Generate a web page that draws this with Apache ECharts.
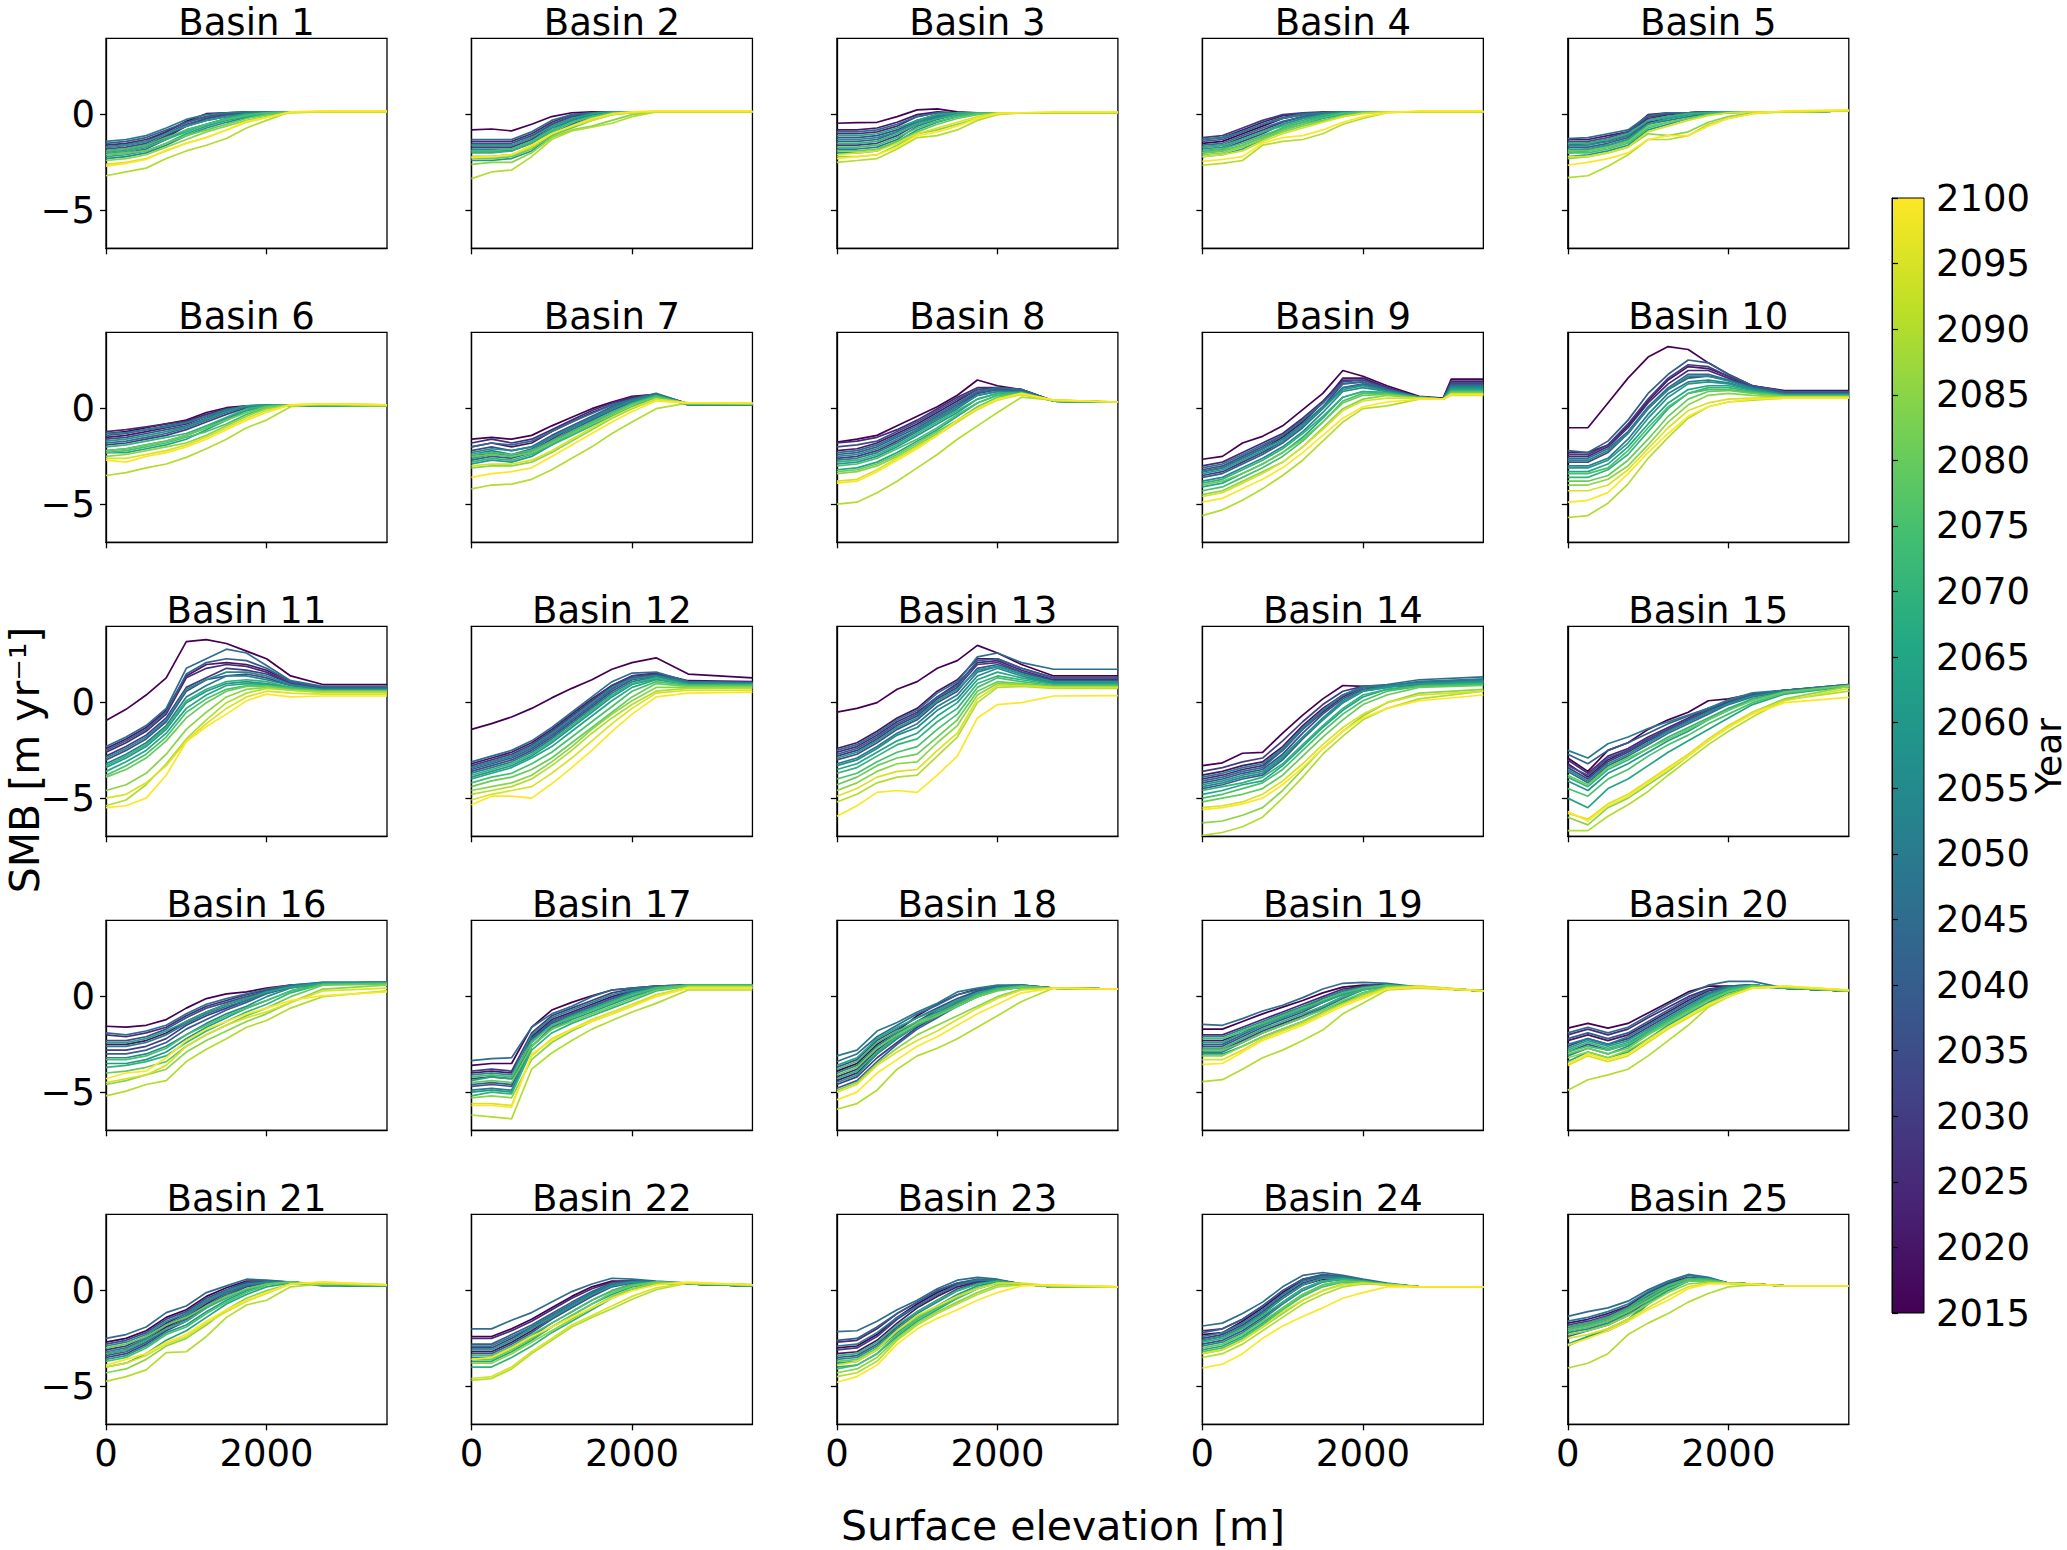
<!DOCTYPE html>
<html><head><meta charset="utf-8">
<script src="https://cdn.jsdelivr.net/npm/echarts@6/dist/echarts.min.js"></script>
<style>html,body{margin:0;padding:0;background:#fff}#c{width:2067px;height:1550px}</style>
</head><body><div id="c"></div>
<script>
const years = [2015,2020,2025,2030,2035,2040,2045,2050,2055,2060,2065,2070,2075,2080,2085,2090,2095,2100];
const elevations = [0,250,500,750,1000,1250,1500,1750,2000,2300,2700,3500];
const elevations9 = [0,250,500,750,1000,1250,1500,1750,2000,2300,2700,3000,3100,3500];
const xTicks = [0,2000];
const yTicks = [-5,0];
const yearTicks = [2015,2020,2025,2030,2035,2040,2045,2050,2055,2060,2065,2070,2075,2080,2085,2090,2095,2100];
const basinNames = ['Basin 1','Basin 2','Basin 3','Basin 4','Basin 5','Basin 6','Basin 7','Basin 8','Basin 9','Basin 10','Basin 11','Basin 12','Basin 13','Basin 14','Basin 15','Basin 16','Basin 17','Basin 18','Basin 19','Basin 20','Basin 21','Basin 22','Basin 23','Basin 24','Basin 25'];

const basin1 = [
[-1.7,-1.6,-1.4,-.9,-.35,.05,.1,.15,.15,.15,.15,.15],
[-2.0,-1.9,-1.7,-1.2,-.6,-.2,0,.1,.15,.15,.15,.15],
[-1.6,-1.5,-1.3,-.9,-.4,-.1,.05,.1,.15,.15,.15,.15],
[-1.9,-1.8,-1.6,-1.1,-.6,-.3,-.1,.05,.1,.15,.15,.15],
[-1.8,-1.7,-1.5,-1.0,-.5,-.2,0,.1,.15,.15,.15,.15],
[-1.5,-1.4,-1.2,-.8,-.4,-.1,.05,.1,.15,.15,.15,.15],
[-2.1,-2.0,-1.8,-1.3,-.8,-.5,-.2,0,.1,.15,.15,.15],
[-1.4,-1.3,-1.1,-.7,-.25,0,.1,.15,.15,.15,.15,.15],
[-2.3,-2.2,-2.0,-1.6,-1.1,-.7,-.4,-.15,0,.15,.15,.15],
[-1.7,-1.6,-1.4,-1.0,-.6,-.3,-.1,.05,.1,.15,.15,.15],
[-2.2,-2.1,-1.9,-1.5,-1.0,-.6,-.3,-.1,.05,.15,.15,.15],
[-2.0,-1.9,-1.7,-1.3,-.9,-.5,-.2,0,.1,.15,.15,.15],
[-1.9,-1.8,-1.6,-1.2,-.8,-.5,-.25,-.05,.1,.15,.15,.15],
[-2.1,-2.0,-1.9,-1.5,-1.1,-.8,-.5,-.2,0,.15,.15,.15],
[-2.4,-2.3,-2.1,-1.7,-1.3,-.9,-.6,-.3,-.1,.1,.15,.15],
[-3.2,-3.0,-2.8,-2.3,-1.9,-1.6,-1.25,-.7,-.3,.15,.15,.15],
[-2.6,-2.5,-2.3,-1.9,-1.5,-1.2,-.8,-.4,-.15,.1,.15,.15],
[-2.7,-2.55,-2.35,-1.85,-1.5,-1.2,-.8,-.35,-.15,.15,.2,.2]
];
const basin2 = [
[-.8,-.75,-.85,-.5,-.1,.1,.15,.15,.15,.15,.15,.15],
[-1.6,-1.6,-1.6,-1.2,-.5,-.1,.1,.15,.15,.15,.15,.15],
[-1.4,-1.4,-1.4,-1.0,-.4,0,.1,.15,.15,.15,.15,.15],
[-1.7,-1.7,-1.7,-1.3,-.6,-.2,.05,.15,.15,.15,.15,.15],
[-1.5,-1.5,-1.5,-1.1,-.5,-.1,.1,.15,.15,.15,.15,.15],
[-1.9,-1.9,-1.9,-1.5,-.8,-.3,0,.1,.15,.15,.15,.15],
[-1.3,-1.3,-1.3,-.9,-.3,0,.1,.15,.15,.15,.15,.15],
[-2.2,-2.2,-2.1,-1.7,-1.0,-.5,-.1,.1,.15,.15,.15,.15],
[-1.8,-1.8,-1.8,-1.4,-.7,-.3,0,.1,.15,.15,.15,.15],
[-2.4,-2.4,-2.3,-1.9,-1.1,-.6,-.2,.05,.15,.15,.15,.15],
[-1.6,-1.6,-1.6,-1.2,-.6,-.2,.05,.15,.15,.15,.15,.15],
[-2.0,-2.0,-1.9,-1.5,-.9,-.4,-.1,.1,.15,.15,.15,.15],
[-1.9,-1.9,-1.8,-1.4,-.8,-.4,-.1,.1,.15,.15,.15,.15],
[-2.3,-2.3,-2.2,-1.8,-1.1,-.7,-.3,0,.1,.15,.15,.15],
[-2.6,-2.5,-2.5,-2.0,-1.2,-.8,-.6,-.3,0,.15,.15,.15],
[-3.35,-3.0,-2.9,-2.2,-1.3,-.85,-.65,-.45,-.1,.15,.15,.15],
[-2.2,-2.2,-2.1,-1.7,-1.0,-.6,-.3,0,.1,.15,.15,.15],
[-2.25,-2.2,-2.1,-1.6,-1.0,-.6,-.2,.05,.15,.2,.2,.2]
];
const basin3 = [
[-.45,-.42,-.4,-.1,.25,.3,.15,.1,.1,.1,.1,.1],
[-.8,-.8,-.7,-.4,0,.15,.1,.1,.1,.1,.1,.1],
[-1.0,-1.0,-.9,-.6,-.1,.1,.1,.1,.1,.1,.1,.1],
[-1.6,-1.6,-1.5,-1.1,-.5,-.15,0,.1,.1,.1,.1,.1],
[-1.2,-1.2,-1.1,-.8,-.3,0,.1,.1,.1,.1,.1,.1],
[-1.4,-1.4,-1.3,-.9,-.4,-.05,.1,.1,.1,.1,.1,.1],
[-.9,-.9,-.8,-.5,-.1,.1,.1,.1,.1,.1,.1,.1],
[-1.8,-1.8,-1.7,-1.3,-.6,-.25,0,.1,.1,.1,.1,.1],
[-1.3,-1.3,-1.2,-.9,-.4,-.1,.05,.1,.1,.1,.1,.1],
[-2.0,-2.0,-1.9,-1.4,-.8,-.4,-.1,.05,.1,.1,.1,.1],
[-1.1,-1.1,-1.0,-.7,-.3,0,.1,.1,.1,.1,.1,.1],
[-1.5,-1.5,-1.4,-1.0,-.5,-.2,0,.1,.1,.1,.1,.1],
[-1.7,-1.7,-1.6,-1.2,-.7,-.35,-.1,.05,.1,.1,.1,.1],
[-1.9,-1.9,-1.8,-1.4,-.9,-.5,-.2,0,.1,.1,.1,.1],
[-2.2,-2.2,-2.1,-1.6,-1.0,-.8,-.5,-.2,.05,.1,.1,.1],
[-2.5,-2.4,-2.3,-1.8,-1.2,-1.1,-.8,-.3,0,.1,.1,.1],
[-2.1,-2.0,-1.9,-1.5,-1.0,-.7,-.4,-.1,.1,.1,.1,.1],
[-2.3,-2.2,-2.1,-1.7,-1.1,-.9,-.6,-.2,.05,.1,.15,.15]
];
const basin4 = [
[-1.5,-1.4,-1.0,-.6,-.2,0,.1,.15,.15,.15,.15,.15],
[-1.3,-1.2,-.8,-.4,-.05,.05,.1,.15,.15,.15,.15,.15],
[-1.7,-1.6,-1.2,-.8,-.4,-.1,.05,.1,.15,.15,.15,.15],
[-1.2,-1.1,-.7,-.3,0,.1,.15,.15,.15,.15,.15,.15],
[-1.9,-1.8,-1.4,-1.0,-.5,-.2,0,.1,.15,.15,.15,.15],
[-1.4,-1.3,-.9,-.5,-.15,.05,.1,.15,.15,.15,.15,.15],
[-1.6,-1.5,-1.1,-.7,-.35,-.1,.05,.1,.15,.15,.15,.15],
[-1.3,-1.2,-.9,-.5,-.2,0,.1,.15,.15,.15,.15,.15],
[-2.0,-1.9,-1.6,-1.2,-.7,-.4,-.1,.05,.15,.15,.15,.15],
[-1.8,-1.7,-1.3,-.9,-.5,-.2,0,.1,.15,.15,.15,.15],
[-2.2,-2.1,-1.8,-1.3,-.8,-.5,-.2,0,.1,.15,.15,.15],
[-1.7,-1.6,-1.3,-.9,-.6,-.3,-.05,.1,.15,.15,.15,.15],
[-1.9,-1.8,-1.5,-1.1,-.7,-.4,-.15,.05,.15,.15,.15,.15],
[-2.0,-1.9,-1.6,-1.2,-.8,-.5,-.3,-.05,.1,.15,.15,.15],
[-2.1,-2.0,-1.7,-1.3,-.9,-.6,-.35,-.1,.1,.15,.15,.15],
[-2.65,-2.55,-2.4,-1.6,-1.4,-1.3,-1.0,-.5,-.2,.1,.15,.15],
[-2.2,-2.1,-1.9,-1.4,-1.0,-.7,-.4,-.1,.05,.15,.15,.15],
[-2.45,-2.35,-2.2,-1.5,-1.2,-1.1,-.8,-.4,-.1,.1,.2,.2]
];
const basin5 = [
[-1.6,-1.5,-1.4,-1.1,-.1,.05,.1,.15,.15,.15,.15,.2],
[-1.3,-1.3,-1.1,-.9,0,.1,.1,.15,.15,.15,.15,.2],
[-1.5,-1.5,-1.3,-1.0,-.2,0,.1,.15,.15,.15,.15,.2],
[-1.9,-1.8,-1.6,-1.3,-.4,-.2,0,.1,.15,.15,.15,.2],
[-1.4,-1.4,-1.2,-.9,-.1,.05,.1,.15,.15,.15,.15,.2],
[-1.7,-1.7,-1.5,-1.2,-.3,-.1,.05,.1,.15,.15,.15,.2],
[-1.25,-1.2,-1.0,-.8,-.05,.1,.1,.15,.15,.15,.15,.2],
[-2.0,-1.9,-1.7,-1.4,-.5,-.3,-.1,.05,.15,.15,.15,.2],
[-1.6,-1.6,-1.4,-1.1,-.3,-.1,.05,.1,.15,.15,.15,.2],
[-2.2,-2.1,-1.9,-1.6,-.8,-.5,-.2,0,.1,.15,.15,.2],
[-1.8,-1.8,-1.6,-1.3,-.5,-.2,0,.1,.15,.15,.15,.2],
[-1.5,-1.5,-1.3,-1.0,-.3,-.1,.05,.1,.15,.15,.15,.2],
[-2.0,-2.0,-1.8,-1.5,-.7,-.4,-.2,0,.1,.15,.15,.2],
[-1.9,-1.9,-1.7,-1.4,-.6,-.4,-.2,0,.1,.15,.15,.2],
[-2.3,-2.2,-2.0,-1.7,-1.0,-1.1,-.9,-.4,-.1,.1,.15,.2],
[-3.3,-3.2,-2.7,-2.1,-1.3,-1.3,-1.1,-.5,-.2,.05,.15,.2],
[-2.2,-2.2,-2.0,-1.7,-.9,-.6,-.3,-.05,.1,.15,.15,.2],
[-2.65,-2.5,-2.3,-2.0,-1.3,-1.1,-1.1,-.6,-.2,.05,.2,.25]
];
const basin6 = [
[-1.3,-1.2,-1.0,-.8,-.6,-.2,.05,.15,.15,.15,.15,.15],
[-1.5,-1.4,-1.2,-1.0,-.8,-.4,-.05,.1,.15,.15,.15,.15],
[-1.2,-1.1,-.95,-.8,-.65,-.3,0,.1,.15,.15,.15,.15],
[-1.9,-1.8,-1.6,-1.4,-1.1,-.7,-.3,.05,.15,.15,.15,.15],
[-1.6,-1.5,-1.3,-1.1,-.9,-.5,-.1,.1,.15,.15,.15,.15],
[-1.4,-1.3,-1.1,-.9,-.7,-.4,-.05,.1,.15,.15,.15,.15],
[-1.8,-1.7,-1.5,-1.3,-1.0,-.6,-.2,.1,.15,.15,.15,.15],
[-1.3,-1.25,-1.1,-.95,-.75,-.4,-.05,.15,.2,.15,.15,.15],
[-2.2,-2.1,-1.9,-1.7,-1.4,-1.0,-.5,-.1,.15,.2,.15,.15],
[-1.7,-1.6,-1.4,-1.2,-.95,-.55,-.15,.15,.2,.15,.15,.15],
[-2.3,-2.3,-2.1,-1.9,-1.6,-1.1,-.6,-.1,.15,.2,.15,.15],
[-2.0,-1.9,-1.7,-1.5,-1.3,-.9,-.45,0,.15,.2,.15,.15],
[-2.3,-2.2,-2.0,-1.8,-1.5,-1.2,-.8,-.3,.05,.2,.2,.15],
[-2.2,-2.1,-1.9,-1.7,-1.4,-1.0,-.6,-.2,.1,.2,.2,.15],
[-2.5,-2.4,-2.2,-2.0,-1.8,-1.4,-.9,-.4,0,.2,.2,.15],
[-3.5,-3.35,-3.1,-2.9,-2.55,-2.1,-1.6,-1.0,-.6,.1,.25,.2],
[-2.6,-2.6,-2.4,-2.2,-1.9,-1.5,-1.0,-.5,-.1,.2,.25,.2],
[-2.7,-2.8,-2.5,-2.3,-2.0,-1.6,-1.1,-.6,-.2,.2,.25,.2]
];
const basin7 = [
[-1.6,-1.5,-1.6,-1.4,-.9,-.45,0,.35,.65,.75,.25,.25],
[-2.0,-1.8,-2.0,-1.8,-1.2,-.7,-.2,.2,.55,.75,.25,.25],
[-1.8,-1.6,-1.8,-1.6,-1.1,-.6,-.1,.3,.6,.75,.25,.25],
[-2.5,-2.3,-2.5,-2.2,-1.6,-1.0,-.5,0,.4,.7,.25,.25],
[-2.2,-2.0,-2.2,-2.0,-1.4,-.9,-.4,.1,.45,.75,.25,.25],
[-2.7,-2.5,-2.6,-2.3,-1.7,-1.1,-.6,-.1,.35,.7,.25,.25],
[-2.0,-1.8,-1.9,-1.7,-1.2,-.7,-.25,.2,.5,.8,.25,.25],
[-2.4,-2.2,-2.4,-2.1,-1.5,-.95,-.45,.05,.45,.75,.2,.2],
[-2.3,-2.1,-2.2,-2.0,-1.5,-1.0,-.5,0,.4,.7,.2,.2],
[-2.9,-2.7,-2.8,-2.5,-1.9,-1.3,-.8,-.25,.25,.65,.2,.2],
[-2.6,-2.4,-2.5,-2.3,-1.8,-1.2,-.7,-.2,.3,.7,.25,.25],
[-2.8,-2.6,-2.7,-2.4,-1.9,-1.4,-.9,-.4,.1,.6,.25,.25],
[-2.4,-2.3,-2.4,-2.2,-1.7,-1.2,-.7,-.2,.25,.65,.25,.25],
[-2.5,-2.4,-2.5,-2.3,-1.8,-1.3,-.8,-.3,.2,.6,.25,.25],
[-3.1,-3.0,-3.0,-2.8,-2.3,-1.7,-1.1,-.5,0,.5,.3,.3],
[-4.2,-4.0,-3.95,-3.7,-3.2,-2.6,-2.0,-1.3,-.7,0,.3,.25],
[-3.0,-2.9,-2.9,-2.7,-2.2,-1.6,-1.0,-.45,.05,.5,.3,.3],
[-3.6,-3.4,-3.3,-3.1,-2.5,-1.9,-1.3,-.7,-.15,.4,.3,.3]
];
const basin8 = [
[-1.75,-1.6,-1.4,-.9,-.4,.1,.7,1.5,1.2,1.0,.4,.35],
[-2.2,-2.1,-1.8,-1.3,-.8,-.2,.4,1.0,1.1,1.0,.4,.35],
[-1.8,-1.7,-1.5,-1.1,-.6,0,.6,1.1,1.1,1.0,.4,.35],
[-2.6,-2.5,-2.2,-1.7,-1.1,-.5,.1,.8,1.0,.95,.4,.35],
[-2.0,-1.9,-1.7,-1.2,-.7,-.1,.5,1.0,1.05,.95,.4,.35],
[-2.4,-2.3,-2.0,-1.5,-1.0,-.4,.2,.85,1.0,.9,.4,.35],
[-2.3,-2.2,-1.9,-1.4,-.9,-.3,.3,.9,1.1,1.0,.4,.35],
[-2.7,-2.6,-2.3,-1.8,-1.2,-.6,0,.7,.9,.9,.4,.35],
[-2.5,-2.4,-2.1,-1.6,-1.1,-.5,.1,.7,.9,.85,.4,.35],
[-2.9,-2.8,-2.5,-2.0,-1.4,-.8,-.2,.5,.8,.85,.4,.35],
[-3.2,-3.1,-2.8,-2.3,-1.7,-1.1,-.4,.3,.7,.8,.4,.35],
[-2.8,-2.7,-2.4,-1.9,-1.3,-.7,-.1,.5,.8,.85,.4,.35],
[-3.0,-2.9,-2.6,-2.1,-1.6,-1.0,-.3,.3,.7,.8,.4,.35],
[-3.3,-3.2,-2.9,-2.4,-1.8,-1.2,-.6,.1,.6,.8,.4,.35],
[-3.4,-3.3,-3.0,-2.5,-1.9,-1.3,-.7,0,.5,.75,.45,.35],
[-5.0,-4.9,-4.4,-3.8,-3.1,-2.4,-1.6,-.9,-.2,.6,.45,.35],
[-3.8,-3.7,-3.2,-2.6,-2.0,-1.4,-.7,-.05,.45,.75,.45,.35],
[-3.9,-3.8,-3.3,-2.7,-2.1,-1.4,-.6,0,.5,.8,.45,.35]
];
const basin9 = [
[-2.65,-2.5,-1.8,-1.45,-.9,-.05,.8,2.0,1.7,1.2,.65,.55,1.55,1.55],
[-3.3,-3.1,-2.6,-2.1,-1.5,-.7,.3,1.6,1.6,1.1,.6,.5,1.4,1.4],
[-3.0,-2.8,-2.3,-1.8,-1.3,-.5,.4,1.5,1.5,1.1,.6,.5,1.45,1.45],
[-3.5,-3.3,-2.8,-2.3,-1.7,-.9,.1,1.3,1.4,1.0,.6,.5,1.3,1.3],
[-3.2,-3.0,-2.5,-2.0,-1.4,-.6,.3,1.4,1.5,1.05,.6,.5,1.35,1.35],
[-3.6,-3.4,-2.9,-2.4,-1.8,-1.0,0,1.1,1.3,1.0,.6,.5,1.25,1.25],
[-3.1,-2.9,-2.4,-1.9,-1.4,-.6,.3,1.3,1.4,1.0,.6,.5,1.2,1.2],
[-3.3,-3.1,-2.6,-2.1,-1.6,-.8,.1,1.1,1.25,.95,.6,.5,1.15,1.15],
[-3.8,-3.6,-3.1,-2.6,-2.0,-1.2,-.2,.9,1.1,.9,.6,.5,1.1,1.1],
[-3.4,-3.2,-2.7,-2.2,-1.7,-.9,0,1.0,1.2,.9,.6,.5,1.05,1.05],
[-4.1,-3.9,-3.4,-2.9,-2.3,-1.5,-.5,.6,.9,.85,.6,.5,1.0,1.0],
[-3.9,-3.7,-3.2,-2.7,-2.1,-1.3,-.4,.6,.9,.8,.55,.5,.95,.95],
[-4.3,-4.1,-3.6,-3.1,-2.5,-1.7,-.7,.4,.8,.8,.55,.5,.9,.9],
[-4.0,-3.8,-3.4,-2.9,-2.3,-1.6,-.7,.3,.7,.75,.55,.5,.85,.85],
[-4.5,-4.3,-3.8,-3.3,-2.8,-2.0,-1.0,0,.5,.7,.55,.5,.8,.8],
[-5.6,-5.3,-4.8,-4.2,-3.5,-2.7,-1.7,-.7,0,.15,.5,.5,.75,.75],
[-4.6,-4.4,-3.9,-3.4,-2.8,-2.0,-1.1,-.1,.4,.55,.55,.5,.7,.7],
[-4.9,-4.7,-4.2,-3.7,-3.1,-2.3,-1.4,-.5,.1,.35,.5,.5,.75,.75]
];
const basin10 = [
[-1.0,-1.0,.3,1.6,2.7,3.25,3.1,2.4,1.8,1.2,.95,.95],
[-2.3,-2.3,-1.9,-.9,.4,1.5,2.2,2.1,1.7,1.2,.9,.9],
[-2.5,-2.5,-2.0,-1.0,.3,1.3,2.0,2.0,1.6,1.1,.85,.85],
[-2.4,-2.4,-1.9,-.8,.5,1.6,2.3,2.2,1.7,1.15,.85,.85],
[-2.8,-2.8,-2.3,-1.3,0,1.0,1.6,1.7,1.5,1.1,.8,.8],
[-2.2,-2.3,-1.7,-.6,.8,1.8,2.55,2.4,1.8,1.2,.9,.9],
[-2.6,-2.6,-2.1,-1.2,.1,1.1,1.8,1.8,1.5,1.1,.8,.8],
[-3.0,-3.0,-2.6,-1.6,-.3,.8,1.4,1.5,1.35,1.0,.75,.75],
[-2.7,-2.7,-2.2,-1.3,0,1.0,1.7,1.7,1.45,1.05,.75,.75],
[-3.1,-3.1,-2.7,-1.8,-.5,.6,1.3,1.4,1.3,1.0,.7,.7],
[-3.3,-3.3,-2.9,-2.0,-.8,.3,1.0,1.2,1.2,.95,.7,.7],
[-3.6,-3.6,-3.2,-2.4,-1.2,0,.8,1.1,1.1,.9,.7,.7],
[-3.4,-3.4,-3.1,-2.2,-1.0,.1,.8,1.0,1.0,.85,.65,.65],
[-3.8,-3.8,-3.5,-2.7,-1.6,-.4,.5,.9,.95,.8,.65,.65],
[-4.0,-4.0,-3.7,-3.0,-1.9,-.7,.2,.7,.8,.7,.6,.6],
[-5.7,-5.6,-4.95,-3.95,-2.6,-1.5,-.5,.1,.35,.45,.55,.55],
[-4.3,-4.3,-4.0,-3.2,-2.1,-1.0,-.1,.3,.5,.55,.6,.6],
[-4.9,-4.8,-4.4,-3.4,-2.3,-1.3,-.4,.1,.35,.5,.55,.55]
];
const basin11 = [
[-.93,-.35,.4,1.3,3.2,3.3,3.1,2.7,2.3,1.4,.95,.95],
[-2.4,-1.9,-1.3,-.4,1.4,2.0,2.1,2.0,1.7,1.1,.8,.8],
[-2.6,-2.1,-1.5,-.6,1.3,1.8,2.0,1.9,1.6,1.0,.75,.75],
[-2.8,-2.3,-1.7,-.8,.8,1.3,1.8,1.7,1.5,1.0,.75,.75],
[-3.0,-2.5,-1.9,-1.0,.6,1.2,1.4,1.5,1.3,.9,.7,.7],
[-2.5,-2.0,-1.4,-.5,1.5,2.1,2.3,2.2,1.8,1.1,.8,.8],
[-2.3,-1.8,-1.2,-.3,1.8,2.3,2.8,2.6,1.95,1.15,.85,.85],
[-3.2,-2.7,-2.1,-1.2,.3,.9,1.4,1.4,1.2,.9,.7,.7],
[-2.9,-2.4,-1.8,-.9,.7,1.2,1.6,1.6,1.4,.95,.7,.7],
[-3.4,-2.9,-2.3,-1.4,0,.6,1.0,1.1,1.0,.8,.65,.65],
[-3.6,-3.1,-2.5,-1.6,-.3,.4,.9,1.0,.95,.75,.6,.6],
[-3.3,-2.8,-2.2,-1.3,.1,.7,1.1,1.2,1.1,.8,.65,.65],
[-3.8,-3.3,-2.7,-1.8,-.5,.2,.7,.9,.9,.75,.6,.6],
[-3.9,-3.5,-2.9,-2.0,-.8,0,.6,.85,.85,.7,.6,.6],
[-4.6,-4.3,-3.7,-2.7,-1.4,-.5,.3,.7,.8,.65,.55,.55],
[-5.4,-5.1,-4.3,-3.2,-1.9,-.9,0,.5,.75,.65,.55,.55],
[-5.0,-4.8,-4.2,-3.3,-2.0,-1.1,-.3,.3,.6,.5,.45,.45],
[-5.5,-5.4,-5.0,-3.8,-2.05,-1.25,-.6,.1,.45,.3,.35,.35]
];
const basin12 = [
[-1.4,-1.1,-.75,-.3,.25,.75,1.2,1.75,2.1,2.35,1.5,1.3],
[-3.2,-2.9,-2.6,-2.1,-1.4,-.6,.2,.9,1.4,1.55,1.15,1.1],
[-3.4,-3.1,-2.8,-2.3,-1.6,-.8,0,.8,1.3,1.45,1.1,1.05],
[-3.3,-3.0,-2.7,-2.2,-1.5,-.7,.1,.9,1.4,1.5,1.1,1.05],
[-3.6,-3.3,-3.0,-2.5,-1.8,-1.0,-.2,.6,1.2,1.4,1.05,1.0],
[-3.5,-3.2,-2.9,-2.4,-1.7,-.9,-.1,.7,1.3,1.45,1.05,1.0],
[-3.1,-2.8,-2.5,-2.0,-1.3,-.5,.3,1.1,1.55,1.6,1.1,1.05],
[-3.7,-3.4,-3.1,-2.6,-1.9,-1.1,-.3,.5,1.1,1.35,1.0,1.0],
[-3.4,-3.1,-2.8,-2.3,-1.6,-.8,0,.8,1.25,1.4,1.05,1.0],
[-3.9,-3.6,-3.3,-2.8,-2.1,-1.3,-.5,.3,.95,1.25,.95,.95],
[-4.0,-3.7,-3.4,-2.9,-2.3,-1.5,-.7,.1,.8,1.2,.95,.9],
[-3.8,-3.5,-3.2,-2.7,-2.0,-1.2,-.4,.4,1.0,1.3,.95,.95],
[-4.2,-3.9,-3.7,-3.2,-2.6,-1.8,-1.0,-.2,.6,1.1,.9,.9],
[-4.4,-4.1,-3.9,-3.5,-2.9,-2.1,-1.3,-.5,.3,1.0,.85,.85],
[-4.6,-4.4,-4.2,-3.8,-3.1,-2.3,-1.4,-.6,.1,.8,.8,.8],
[-4.8,-4.6,-4.4,-4.0,-3.3,-2.5,-1.6,-.8,-.1,.6,.75,.75],
[-5.1,-4.8,-4.6,-4.4,-3.7,-2.9,-2.0,-1.1,-.3,.5,.65,.65],
[-5.35,-4.9,-4.9,-5.0,-4.25,-3.4,-2.5,-1.5,-.6,.3,.5,.55]
];
const basin13 = [
[-.5,-.3,0,.7,1.1,1.8,2.2,3.0,2.6,2.0,1.4,1.4],
[-2.4,-2.1,-1.5,-.8,-.3,.6,1.2,2.3,2.3,1.8,1.3,1.3],
[-2.6,-2.3,-1.7,-1.0,-.5,.3,1.0,2.1,2.2,1.7,1.2,1.2],
[-2.8,-2.5,-1.9,-1.2,-.7,.2,.8,2.0,2.1,1.6,1.15,1.15],
[-3.0,-2.7,-2.1,-1.4,-.9,0,.6,1.8,2.0,1.6,1.1,1.1],
[-2.7,-2.4,-1.8,-1.1,-.6,.3,.9,2.2,2.3,1.8,1.3,1.3],
[-2.5,-2.2,-1.6,-.9,-.4,.5,1.1,2.4,2.6,2.1,1.75,1.75],
[-3.2,-2.9,-2.3,-1.6,-1.1,-.2,.4,1.6,1.9,1.5,1.05,1.05],
[-3.3,-3.0,-2.4,-1.7,-1.3,-.4,.2,1.4,1.8,1.4,1.0,1.0],
[-2.9,-2.6,-2.0,-1.3,-.8,.1,.7,1.7,1.9,1.5,1.1,1.1],
[-3.5,-3.2,-2.6,-2.0,-1.6,-.7,0,1.2,1.6,1.3,1.0,1.0],
[-3.7,-3.4,-2.8,-2.2,-1.9,-1.0,-.3,1.0,1.4,1.2,.95,.95],
[-4.0,-3.7,-3.1,-2.6,-2.3,-1.4,-.6,.8,1.3,1.1,.9,.9],
[-4.3,-3.9,-3.3,-2.9,-2.7,-1.8,-.9,.6,1.1,1.0,.85,.85],
[-4.6,-4.2,-3.6,-3.2,-3.1,-2.1,-1.2,.4,1.0,.95,.8,.8],
[-5.2,-4.8,-4.2,-3.9,-3.8,-2.8,-1.8,0,.8,.85,.75,.75],
[-4.9,-4.5,-3.9,-3.6,-3.5,-2.5,-1.6,.2,.9,.9,.8,.8],
[-5.95,-5.4,-4.7,-4.6,-4.7,-3.8,-2.8,-.8,-.1,0,.35,.37]
];
const basin14 = [
[-3.3,-3.15,-2.65,-2.6,-1.6,-.65,.2,.9,.85,.85,.9,.95],
[-3.8,-3.6,-3.3,-3.1,-2.3,-1.2,-.3,.4,.8,.9,1.0,1.1],
[-4.0,-3.8,-3.5,-3.3,-2.5,-1.4,-.5,.3,.8,.85,1.0,1.1],
[-3.6,-3.4,-3.1,-2.9,-2.0,-1.0,-.1,.6,.85,.9,1.05,1.15],
[-4.2,-4.0,-3.7,-3.5,-2.7,-1.6,-.6,.2,.7,.85,1.0,1.1],
[-4.5,-4.3,-4.0,-3.8,-3.0,-1.9,-.9,0,.6,.8,1.1,1.2],
[-4.1,-3.9,-3.6,-3.4,-2.5,-1.4,-.4,.4,.85,.95,1.2,1.35],
[-3.9,-3.7,-3.4,-3.2,-2.4,-1.3,-.4,.4,.8,.9,1.1,1.25],
[-4.4,-4.2,-3.9,-3.7,-2.9,-1.8,-.8,.1,.65,.85,1.0,1.15],
[-4.3,-4.1,-3.8,-3.6,-2.8,-1.8,-.9,0,.6,.8,1.0,1.1],
[-4.8,-4.6,-4.3,-4.1,-3.3,-2.3,-1.3,-.4,.3,.7,.9,1.05],
[-4.6,-4.4,-4.2,-3.9,-3.2,-2.2,-1.2,-.3,.4,.7,.9,1.0],
[-5.0,-4.8,-4.5,-4.2,-3.5,-2.5,-1.5,-.6,.1,.6,.85,.95],
[-5.2,-5.0,-4.8,-4.5,-3.8,-2.8,-1.8,-.9,-.1,.4,.8,.9],
[-6.3,-6.2,-5.9,-5.5,-4.6,-3.5,-2.4,-1.5,-.7,0,.5,.7],
[-6.95,-6.8,-6.5,-6.0,-5.0,-3.9,-2.7,-1.75,-.9,-.3,.2,.6],
[-5.5,-5.4,-5.2,-4.8,-4.1,-3.2,-2.2,-1.3,-.6,0,.4,.6],
[-5.6,-5.5,-5.3,-5.0,-4.3,-3.4,-2.4,-1.5,-.8,-.3,.1,.4]
];
const basin15 = [
[-2.9,-3.6,-2.5,-2.1,-1.4,-.9,-.5,.1,.2,.45,.65,.9],
[-3.2,-3.9,-3.0,-2.5,-1.9,-1.4,-.9,-.4,0,.35,.6,.9],
[-3.0,-3.7,-2.8,-2.4,-1.8,-1.3,-.8,-.3,.05,.4,.65,.95],
[-3.4,-4.0,-3.1,-2.6,-2.0,-1.5,-1.0,-.5,-.05,.35,.6,.85],
[-3.3,-3.8,-2.9,-2.5,-1.9,-1.4,-.9,-.4,0,.4,.65,.9],
[-2.7,-3.2,-2.5,-2.1,-1.6,-1.1,-.7,-.3,.1,.45,.65,.95],
[-3.6,-4.2,-3.3,-2.8,-2.2,-1.6,-1.1,-.6,-.1,.3,.6,.9],
[-2.5,-2.9,-2.15,-1.8,-1.35,-1.0,-.65,-.3,.15,.52,.65,.95],
[-3.5,-4.1,-3.2,-2.7,-2.1,-1.5,-1.0,-.5,-.05,.35,.6,.9],
[-4.1,-4.6,-3.7,-3.2,-2.6,-2.0,-1.5,-.9,-.4,.2,.55,.85],
[-5.0,-5.5,-4.5,-4.0,-3.3,-2.6,-2.0,-1.4,-.8,-.1,.45,.85],
[-3.9,-4.4,-3.5,-3.0,-2.4,-1.8,-1.3,-.8,-.3,.2,.55,.9],
[-4.5,-4.9,-4.0,-3.5,-2.8,-2.2,-1.7,-1.1,-.6,0,.5,.9],
[-3.8,-4.3,-3.4,-2.9,-2.4,-1.9,-1.4,-.9,-.4,.1,.55,.9],
[-6.0,-6.4,-5.5,-5.0,-4.3,-3.6,-2.8,-2.0,-1.3,-.5,.2,.85],
[-6.7,-6.7,-5.95,-5.35,-4.65,-3.8,-3.0,-2.2,-1.5,-.75,.15,.6],
[-5.8,-6.1,-5.3,-4.8,-4.1,-3.4,-2.7,-1.9,-1.2,-.5,.1,.75],
[-5.7,-6.2,-5.4,-4.9,-4.2,-3.5,-2.8,-2.0,-1.3,-.6,0,.28]
];
const basin16 = [
[-1.55,-1.6,-1.5,-1.2,-.6,-.1,.15,.25,.45,.6,.65,.7],
[-2.5,-2.5,-2.3,-1.9,-1.3,-.8,-.4,-.1,.3,.55,.65,.7],
[-2.0,-2.1,-1.9,-1.6,-1.0,-.5,-.2,.1,.35,.6,.7,.7],
[-2.8,-2.8,-2.6,-2.2,-1.5,-1.0,-.6,-.2,.2,.5,.65,.7],
[-2.3,-2.3,-2.1,-1.7,-1.1,-.6,-.3,0,.3,.55,.7,.75],
[-3.0,-3.0,-2.8,-2.4,-1.7,-1.2,-.7,-.3,.15,.5,.7,.75],
[-1.9,-2.0,-1.8,-1.5,-.9,-.4,-.1,.15,.4,.6,.75,.75],
[-2.6,-2.6,-2.4,-2.0,-1.4,-.9,-.5,-.2,.2,.55,.75,.75],
[-3.2,-3.2,-3.0,-2.6,-2.0,-1.4,-.9,-.5,0,.45,.7,.75],
[-3.5,-3.5,-3.3,-2.9,-2.2,-1.6,-1.1,-.6,-.2,.3,.7,.75],
[-2.4,-2.4,-2.2,-1.8,-1.3,-.8,-.4,-.1,.25,.5,.7,.7],
[-3.7,-3.6,-3.4,-3.1,-2.4,-1.8,-1.3,-.8,-.4,.2,.65,.7],
[-3.3,-3.3,-3.1,-2.7,-2.0,-1.5,-1.0,-.6,-.2,.3,.65,.7],
[-4.0,-3.9,-3.7,-3.4,-2.6,-2.0,-1.5,-1.0,-.6,0,.6,.65],
[-4.6,-4.4,-4.1,-3.8,-2.9,-2.3,-1.8,-1.3,-.9,-.3,.4,.6],
[-5.2,-4.95,-4.6,-4.4,-3.4,-2.75,-2.2,-1.6,-1.25,-.6,0,.3],
[-4.5,-4.3,-4.1,-3.6,-2.6,-2.0,-1.5,-1.1,-.8,-.3,.3,.45],
[-4.3,-4.0,-3.9,-3.2,-2.3,-1.7,-1.3,-.9,-.6,-.2,.05,.25]
];
const basin17 = [
[-3.6,-3.5,-3.5,-1.6,-.7,-.3,.05,.35,.45,.55,.6,.6],
[-4.0,-3.9,-4.0,-2.1,-1.2,-.8,-.4,0,.3,.5,.6,.6],
[-4.3,-4.2,-4.3,-2.3,-1.3,-.9,-.5,-.1,.25,.5,.6,.6],
[-3.9,-3.8,-3.9,-1.9,-1.0,-.6,-.2,.2,.4,.55,.6,.6],
[-4.7,-4.6,-4.7,-2.4,-1.4,-1.0,-.6,-.2,.2,.45,.6,.6],
[-4.6,-4.5,-4.6,-2.2,-1.3,-.9,-.5,-.1,.3,.5,.6,.6],
[-3.35,-3.25,-3.2,-1.6,-.9,-.5,0,.35,.45,.55,.6,.6],
[-4.9,-4.8,-4.9,-2.6,-1.6,-1.1,-.7,-.3,.1,.45,.6,.6],
[-4.1,-4.0,-4.1,-2.0,-1.1,-.7,-.3,.1,.35,.5,.6,.6],
[-5.0,-4.9,-5.0,-2.6,-1.7,-1.2,-.8,-.4,0,.4,.6,.6],
[-4.4,-4.2,-4.3,-2.3,-1.5,-1.0,-.6,-.2,.2,.45,.6,.6],
[-5.2,-5.0,-5.1,-2.8,-1.9,-1.4,-1.0,-.6,-.2,.3,.55,.55],
[-4.2,-4.1,-4.2,-2.4,-1.5,-1.1,-.7,-.3,.1,.45,.6,.6],
[-4.5,-4.4,-4.5,-2.6,-1.7,-1.3,-.9,-.5,-.1,.35,.55,.55],
[-5.3,-5.2,-5.3,-3.3,-2.4,-1.8,-1.3,-.9,-.5,.1,.45,.45],
[-6.2,-6.3,-6.4,-3.8,-2.95,-2.3,-1.7,-1.25,-.8,-.35,.35,.35],
[-5.6,-5.6,-5.7,-3.1,-2.2,-1.7,-1.2,-.8,-.4,.1,.5,.5],
[-5.7,-5.7,-5.8,-3.0,-2.3,-1.7,-1.3,-.9,-.5,0,.45,.45]
];
const basin18 = [
[-3.9,-3.5,-2.5,-1.8,-1.0,-.4,.1,.4,.55,.6,.45,.4],
[-4.4,-4.0,-3.0,-2.2,-1.5,-.9,-.3,.2,.45,.55,.45,.4],
[-4.2,-3.8,-2.8,-2.0,-1.3,-.7,-.2,.3,.5,.55,.45,.4],
[-4.6,-4.2,-3.2,-2.4,-1.6,-1.0,-.4,.1,.4,.55,.45,.4],
[-3.7,-3.3,-2.3,-1.7,-1.1,-.6,-.1,.3,.5,.55,.45,.4],
[-4.8,-4.4,-3.4,-2.5,-1.7,-1.1,-.5,0,.35,.5,.45,.4],
[-3.4,-3.0,-2.1,-1.5,-.9,-.45,.1,.35,.55,.6,.45,.4],
[-3.1,-2.8,-1.8,-1.35,-.8,-.35,.25,.45,.6,.6,.45,.4],
[-4.0,-3.6,-2.6,-1.9,-1.3,-.8,-.3,.2,.45,.55,.45,.4],
[-4.5,-4.1,-3.0,-2.2,-1.5,-1.0,-.5,0,.35,.5,.45,.4],
[-3.6,-3.2,-2.2,-1.6,-1.1,-.7,-.2,.2,.45,.55,.45,.4],
[-4.3,-3.9,-2.9,-2.1,-1.5,-1.0,-.5,0,.35,.5,.45,.4],
[-3.8,-3.4,-2.4,-1.8,-1.3,-.9,-.4,.1,.4,.55,.45,.4],
[-4.1,-3.7,-2.7,-2.0,-1.4,-1.0,-.5,0,.3,.5,.45,.4],
[-4.9,-4.5,-3.5,-2.7,-2.0,-1.5,-1.0,-.5,0,.4,.45,.4],
[-5.9,-5.6,-4.9,-3.8,-3.1,-2.7,-2.2,-1.6,-1.0,-.25,.45,.4],
[-5.0,-4.6,-3.6,-2.9,-2.3,-1.8,-1.2,-.6,-.1,.35,.45,.4],
[-5.4,-5.0,-4.0,-3.3,-2.6,-2.1,-1.5,-.9,-.4,.2,.45,.4]
];
const basin19 = [
[-1.7,-1.7,-1.3,-.9,-.55,-.2,.2,.5,.6,.6,.5,.3],
[-2.3,-2.3,-1.9,-1.4,-1.0,-.6,-.1,.3,.55,.6,.5,.3],
[-2.0,-2.0,-1.6,-1.2,-.8,-.4,0,.4,.55,.6,.5,.3],
[-2.8,-2.8,-2.3,-1.8,-1.4,-1.0,-.5,0,.4,.55,.5,.3],
[-2.6,-2.6,-2.1,-1.6,-1.2,-.8,-.3,.15,.45,.6,.5,.3],
[-2.5,-2.5,-2.0,-1.5,-1.1,-.7,-.25,.2,.5,.6,.5,.3],
[-1.45,-1.5,-1.15,-.75,-.45,-.05,.4,.7,.75,.7,.5,.3],
[-2.9,-2.9,-2.4,-1.9,-1.5,-1.1,-.6,-.1,.35,.55,.5,.3],
[-2.1,-2.1,-1.7,-1.3,-.9,-.5,-.1,.3,.5,.6,.5,.3],
[-3.0,-3.0,-2.6,-2.1,-1.7,-1.3,-.8,-.3,.2,.5,.5,.3],
[-2.4,-2.4,-1.9,-1.5,-1.1,-.7,-.3,.1,.4,.55,.5,.3],
[-2.7,-2.7,-2.2,-1.7,-1.3,-.9,-.5,0,.35,.55,.5,.3],
[-2.2,-2.2,-1.8,-1.4,-1.0,-.6,-.2,.2,.45,.6,.5,.3],
[-2.8,-2.8,-2.4,-1.9,-1.5,-1.1,-.7,-.2,.2,.5,.5,.3],
[-3.1,-3.1,-2.6,-2.1,-1.7,-1.3,-.8,-.35,.1,.5,.55,.3],
[-4.45,-4.35,-3.8,-3.2,-2.8,-2.3,-1.75,-.9,-.35,.35,.45,.3],
[-3.3,-3.3,-2.8,-2.2,-1.8,-1.4,-.9,-.4,0,.45,.55,.3],
[-3.55,-3.5,-2.9,-2.3,-1.9,-1.5,-1.0,-.5,-.1,.4,.5,.3]
];
const basin20 = [
[-1.65,-1.4,-1.65,-1.4,-.85,-.3,.25,.55,.55,.6,.45,.3],
[-2.3,-2.0,-2.3,-2.0,-1.4,-.8,-.2,.3,.5,.6,.45,.3],
[-2.0,-1.7,-2.0,-1.7,-1.1,-.55,0,.4,.55,.6,.45,.3],
[-2.6,-2.2,-2.5,-2.2,-1.6,-1.0,-.4,.15,.45,.6,.45,.3],
[-2.9,-2.5,-2.8,-2.5,-1.8,-1.2,-.6,0,.4,.6,.45,.3],
[-2.2,-1.9,-2.2,-1.9,-1.3,-.7,-.1,.35,.55,.6,.45,.3],
[-1.9,-1.6,-1.9,-1.6,-1.0,-.4,.15,.6,.8,.8,.45,.3],
[-2.5,-2.2,-2.5,-2.1,-1.5,-.9,-.3,.2,.5,.6,.45,.3],
[-3.1,-2.7,-3.0,-2.6,-1.9,-1.3,-.7,-.1,.35,.55,.45,.3],
[-2.7,-2.3,-2.6,-2.3,-1.7,-1.1,-.5,.1,.45,.6,.45,.3],
[-3.4,-2.9,-3.2,-2.9,-2.2,-1.5,-.9,-.3,.2,.55,.45,.3],
[-2.8,-2.4,-2.7,-2.4,-1.8,-1.2,-.6,0,.4,.6,.5,.3],
[-2.9,-2.6,-2.8,-2.5,-1.9,-1.3,-.7,-.15,.3,.55,.5,.3],
[-3.0,-2.7,-3.0,-2.7,-2.0,-1.4,-.8,-.2,.25,.55,.5,.3],
[-3.2,-2.9,-3.2,-2.8,-2.2,-1.6,-1.0,-.4,.1,.5,.5,.35],
[-4.9,-4.35,-4.1,-3.8,-3.1,-2.3,-1.5,-.55,0,.45,.5,.3],
[-3.6,-3.1,-3.4,-3.1,-2.4,-1.7,-1.1,-.5,0,.45,.55,.35],
[-3.5,-3.0,-3.3,-3.0,-2.3,-1.6,-1.0,-.4,0,.45,.55,.35]
];
const basin21 = [
[-2.7,-2.5,-2.1,-1.4,-1.0,-.3,.15,.5,.5,.45,.3,.25],
[-3.3,-3.1,-2.6,-1.9,-1.4,-.7,-.1,.3,.45,.45,.3,.25],
[-3.1,-2.9,-2.4,-1.7,-1.2,-.5,0,.4,.45,.45,.3,.25],
[-3.5,-3.3,-2.8,-2.1,-1.6,-.9,-.3,.2,.4,.45,.3,.25],
[-2.8,-2.6,-2.2,-1.5,-1.1,-.4,.05,.45,.5,.45,.3,.25],
[-3.4,-3.2,-2.7,-2.0,-1.5,-.8,-.2,.25,.4,.45,.3,.25],
[-2.5,-2.3,-1.9,-1.15,-.8,-.1,.25,.6,.55,.45,.25,.25],
[-3.2,-3.0,-2.5,-1.8,-1.3,-.6,-.1,.3,.45,.45,.3,.25],
[-2.9,-2.7,-2.3,-1.6,-1.2,-.5,0,.35,.45,.45,.3,.25],
[-3.6,-3.4,-2.9,-2.2,-1.8,-1.1,-.5,0,.35,.45,.3,.25],
[-4.0,-3.8,-3.3,-2.6,-2.1,-1.4,-.7,-.2,.2,.4,.3,.25],
[-3.3,-3.1,-2.6,-2.0,-1.6,-.9,-.4,.05,.35,.45,.3,.25],
[-3.7,-3.5,-3.0,-2.3,-1.9,-1.2,-.6,-.1,.3,.45,.35,.3],
[-3.0,-2.8,-2.4,-1.8,-1.4,-.8,-.3,.1,.35,.45,.35,.3],
[-4.3,-4.1,-3.6,-2.9,-2.5,-1.8,-1.0,-.4,0,.35,.35,.3],
[-4.75,-4.5,-4.15,-3.25,-3.2,-2.4,-1.4,-.75,-.5,.2,.35,.3],
[-4.0,-3.8,-3.4,-2.8,-2.4,-1.7,-1.1,-.55,-.15,.35,.45,.3],
[-3.9,-3.6,-3.3,-2.7,-2.3,-1.6,-1.0,-.5,-.1,.35,.45,.3]
];
const basin22 = [
[-2.4,-2.4,-2.0,-1.5,-.9,-.3,.2,.5,.5,.45,.35,.25],
[-3.2,-3.2,-2.7,-2.1,-1.4,-.8,-.2,.3,.45,.45,.35,.25],
[-2.5,-2.5,-2.1,-1.6,-1.0,-.4,.1,.45,.5,.45,.35,.25],
[-3.0,-3.0,-2.5,-1.9,-1.3,-.7,-.15,.3,.45,.45,.35,.25],
[-3.3,-3.3,-2.8,-2.2,-1.5,-.9,-.3,.2,.4,.45,.35,.25],
[-2.8,-2.8,-2.3,-1.8,-1.2,-.6,-.05,.4,.5,.45,.35,.25],
[-2.0,-2.0,-1.55,-1.15,-.6,-.05,.35,.65,.6,.5,.4,.25],
[-2.9,-2.9,-2.4,-1.9,-1.3,-.7,-.1,.35,.45,.45,.35,.25],
[-3.5,-3.5,-3.0,-2.4,-1.7,-1.1,-.5,0,.35,.45,.35,.25],
[-3.1,-3.1,-2.6,-2.0,-1.4,-.8,-.2,.25,.45,.45,.35,.25],
[-3.7,-3.7,-3.2,-2.6,-1.9,-1.3,-.7,-.2,.2,.4,.35,.25],
[-4.0,-4.0,-3.5,-2.9,-2.2,-1.6,-1.0,-.4,.05,.35,.35,.25],
[-3.4,-3.4,-2.9,-2.3,-1.7,-1.1,-.5,0,.3,.45,.4,.3],
[-3.6,-3.6,-3.1,-2.5,-1.9,-1.3,-.7,-.1,.25,.45,.4,.3],
[-3.8,-3.8,-3.3,-2.7,-2.1,-1.5,-.9,-.3,.1,.4,.4,.3],
[-4.7,-4.6,-4.1,-3.3,-2.6,-1.9,-1.4,-.95,-.45,.05,.4,.3],
[-4.6,-4.5,-4.0,-3.2,-2.5,-1.8,-1.3,-.8,-.3,.15,.4,.3],
[-3.6,-3.5,-3.0,-2.4,-1.9,-1.4,-.9,-.4,0,.3,.45,.3]
];
const basin23 = [
[-3.0,-2.9,-2.3,-1.4,-.7,-.1,.35,.5,.5,.35,.2,.2],
[-3.3,-3.2,-2.6,-1.7,-.9,-.3,.2,.45,.5,.35,.2,.2],
[-2.7,-2.6,-2.0,-1.2,-.6,0,.4,.55,.55,.35,.2,.2],
[-3.1,-3.0,-2.4,-1.5,-.8,-.2,.3,.5,.5,.35,.2,.2],
[-3.5,-3.4,-2.8,-1.9,-1.1,-.5,.1,.4,.5,.35,.2,.2],
[-2.6,-2.5,-1.9,-1.2,-.6,0,.4,.6,.55,.35,.2,.2],
[-2.15,-2.1,-1.6,-1.0,-.5,.1,.55,.7,.6,.35,.2,.2],
[-2.9,-2.8,-2.2,-1.4,-.8,-.2,.3,.55,.55,.35,.2,.2],
[-3.6,-3.5,-2.9,-2.0,-1.2,-.6,0,.35,.5,.35,.2,.2],
[-3.8,-3.7,-3.1,-2.2,-1.4,-.8,-.2,.25,.45,.35,.2,.2],
[-4.0,-3.9,-3.3,-2.4,-1.6,-1.0,-.4,.1,.4,.35,.2,.2],
[-3.4,-3.3,-2.7,-1.8,-1.1,-.5,0,.35,.5,.35,.2,.2],
[-4.1,-3.9,-3.3,-2.3,-1.5,-.9,-.4,.1,.4,.35,.2,.2],
[-3.7,-3.6,-3.0,-2.1,-1.4,-.8,-.3,.15,.4,.35,.2,.2],
[-4.3,-4.1,-3.5,-2.5,-1.7,-1.1,-.6,-.1,.3,.35,.25,.2],
[-4.5,-4.3,-3.7,-2.6,-1.8,-1.2,-.7,-.2,.2,.3,.25,.2],
[-3.9,-3.7,-3.1,-2.1,-1.3,-.8,-.3,.1,.4,.4,.25,.2],
[-4.8,-4.5,-3.9,-2.8,-2.0,-1.45,-1.0,-.5,-.1,.25,.3,.2]
];
const basin24 = [
[-2.3,-2.2,-1.6,-.9,-.1,.55,.75,.7,.5,.35,.2,.2],
[-2.6,-2.4,-1.9,-1.2,-.4,.3,.6,.65,.5,.35,.2,.2],
[-2.1,-2.0,-1.5,-.8,0,.6,.8,.75,.55,.35,.2,.2],
[-2.5,-2.3,-1.8,-1.1,-.3,.4,.7,.7,.5,.35,.2,.2],
[-2.8,-2.6,-2.1,-1.4,-.6,.1,.5,.6,.5,.35,.2,.2],
[-2.2,-2.0,-1.5,-.8,0,.6,.85,.75,.55,.35,.2,.2],
[-1.85,-1.7,-1.2,-.6,.2,.8,.95,.8,.6,.4,.2,.2],
[-2.4,-2.2,-1.7,-1.0,-.2,.5,.75,.7,.55,.35,.2,.2],
[-2.9,-2.7,-2.2,-1.5,-.7,0,.45,.6,.5,.35,.2,.2],
[-2.6,-2.4,-1.9,-1.2,-.4,.3,.65,.65,.5,.35,.2,.2],
[-3.1,-2.9,-2.4,-1.7,-.9,-.2,.3,.5,.45,.35,.2,.2],
[-2.7,-2.5,-2.0,-1.3,-.6,.1,.5,.6,.5,.35,.2,.2],
[-3.2,-3.0,-2.5,-1.8,-1.0,-.3,.2,.45,.45,.35,.2,.2],
[-3.0,-2.8,-2.3,-1.6,-.9,-.2,.3,.5,.45,.35,.2,.2],
[-3.3,-3.1,-2.6,-1.9,-1.2,-.5,0,.35,.4,.3,.2,.2],
[-3.5,-3.3,-2.8,-2.1,-1.4,-.7,-.2,.2,.35,.3,.2,.2],
[-3.3,-3.1,-2.6,-1.9,-1.1,-.5,0,.3,.4,.3,.2,.2],
[-4.05,-3.85,-3.3,-2.5,-1.85,-1.35,-.9,-.4,-.1,.2,.2,.2]
];
const basin25 = [
[-1.9,-1.7,-1.4,-.9,-.2,.35,.6,.55,.4,.35,.25,.25],
[-1.7,-1.5,-1.2,-.8,-.1,.4,.7,.6,.4,.35,.25,.25],
[-2.0,-1.8,-1.5,-1.0,-.3,.3,.6,.55,.4,.35,.25,.25],
[-1.8,-1.6,-1.3,-.85,-.15,.35,.65,.6,.4,.35,.25,.25],
[-2.1,-1.9,-1.6,-1.1,-.4,.2,.55,.55,.4,.35,.25,.25],
[-2.4,-2.1,-1.8,-1.3,-.5,.15,.5,.5,.4,.35,.25,.25],
[-1.35,-1.1,-.9,-.55,.05,.5,.85,.7,.4,.35,.25,.25],
[-1.6,-1.4,-1.1,-.7,-.05,.45,.8,.65,.4,.35,.25,.25],
[-2.2,-2.0,-1.7,-1.2,-.4,.2,.6,.6,.4,.35,.25,.25],
[-2.9,-2.4,-2.1,-1.6,-.7,0,.5,.55,.4,.35,.25,.25],
[-2.8,-2.4,-2.0,-1.5,-.6,.05,.55,.55,.4,.35,.25,.25],
[-1.9,-1.7,-1.4,-.9,-.2,.3,.65,.6,.4,.35,.25,.25],
[-2.0,-1.8,-1.5,-1.0,-.35,.25,.6,.55,.4,.35,.25,.25],
[-2.1,-1.9,-1.6,-1.1,-.5,.1,.5,.5,.4,.35,.25,.25],
[-2.3,-2.1,-1.8,-1.3,-.7,-.1,.35,.45,.4,.35,.25,.25],
[-4.05,-3.8,-3.3,-2.3,-1.7,-1.2,-.6,-.15,.2,.3,.25,.25],
[-2.5,-2.3,-2.0,-1.5,-.9,-.3,.2,.4,.4,.35,.25,.25],
[-2.85,-2.5,-2.1,-1.6,-1.0,-.5,.1,.35,.35,.35,.25,.25]
];

const basins = [basin1,basin2,basin3,basin4,basin5,basin6,basin7,basin8,basin9,basin10,basin11,basin12,basin13,basin14,basin15,basin16,basin17,basin18,basin19,basin20,basin21,basin22,basin23,basin24,basin25];

const viridisStops = ['#440154','#482475','#414487','#355f8d','#2a788e','#21918c','#22a884','#44bf70','#7ad151','#bddf26','#fde725'];
function hexRgb(h){return [parseInt(h.slice(1,3),16),parseInt(h.slice(3,5),16),parseInt(h.slice(5,7),16)];}
function viridis(t){
  const n = viridisStops.length - 1;
  const x = Math.min(Math.max(t,0),1) * n;
  const i = Math.min(Math.floor(x), n - 1);
  const f = x - i;
  const a = hexRgb(viridisStops[i]), b = hexRgb(viridisStops[i+1]);
  return 'rgb(' + a.map((v,k)=>Math.round(v + (b[k]-v)*f)).join(',') + ')';
}
const FONT = 'DejaVu Sans';
const yearMin = 2015, yearMax = 2100;
const fmtY = v => v < 0 ? '\u2212' + Math.abs(v) : String(v);
const fmtPlain = v => String(v);

const grids = [], xAxes = [], yAxes = [], series = [], graphics = [];
const PW = 281, PH = 210;
for (let b = 0; b < 25; b++) {
  const r = Math.floor(b / 5), c = b % 5;
  const left = 106 + 365.45 * c, top = 38.3 + 294 * r;
  grids.push({left: left, top: top, width: PW, height: PH, show: true, borderColor: '#000', borderWidth: 1.3, backgroundColor: 'rgba(0,0,0,0)'});
  xAxes.push({
    type: 'value', gridIndex: b, min: 0, max: 3500,
    axisLine: {show: true, onZero: false, lineStyle: {color: '#000', width: 1.3}},
    axisTick: {show: true, length: 6, customValues: xTicks, lineStyle: {color: '#000', width: 1.3}},
    axisLabel: {show: r === 4, customValues: xTicks, formatter: fmtPlain, margin: 11, color: '#000', fontSize: 37, fontFamily: FONT},
    splitLine: {show: false}
  });
  yAxes.push({
    type: 'value', gridIndex: b, min: -7, max: 4,
    axisLine: {show: true, onZero: false, lineStyle: {color: '#000', width: 1.3}},
    axisTick: {show: true, length: 6, customValues: yTicks, lineStyle: {color: '#000', width: 1.3}},
    axisLabel: {show: c === 0, customValues: yTicks, formatter: fmtY, margin: 11, color: '#000', fontSize: 37, fontFamily: FONT},
    splitLine: {show: false}
  });
  const elev = (b === 8) ? elevations9 : elevations;
  basins[b].forEach((vals, j) => {
    const col = viridis((years[j] - yearMin) / (yearMax - yearMin));
    series.push({
      type: 'line', name: basinNames[b] + ' ' + years[j], xAxisIndex: b, yAxisIndex: b,
      data: vals.map((v, k) => [elev[k], v]),
      symbol: 'none', showSymbol: false, silent: true, animation: false,
      lineStyle: {width: 1.7, color: col}, itemStyle: {color: col}
    });
  });
  graphics.push({type: 'text', x: left + PW / 2, y: top - 16, silent: true,
    style: {text: basinNames[b], fill: '#000', font: '37px "' + FONT + '"', lineHeight: 37, textAlign: 'center', textVerticalAlign: 'middle', align: 'center', verticalAlign: 'middle'}});
}
// colorbar
grids.push({left: 1892, top: 198, width: 32, height: 1115, show: true, borderColor: '#000', borderWidth: 1,
  backgroundColor: {type: 'linear', x: 0, y: 1, x2: 0, y2: 0, colorStops: viridisStops.map((c, i) => ({offset: i / (viridisStops.length - 1), color: c}))}});
xAxes.push({type: 'value', gridIndex: 25, min: 0, max: 1, show: false});
yAxes.push({
  type: 'value', gridIndex: 25, min: yearMin, max: yearMax, interval: 5, position: 'right',
  axisLine: {show: true, lineStyle: {color: '#000', width: 1}},
  axisTick: {show: true, length: 6, lineStyle: {color: '#000', width: 1.2}},
  axisLabel: {margin: 12, color: '#000', fontSize: 37, fontFamily: FONT, formatter: fmtPlain},
  splitLine: {show: false}
});
graphics.push({type: 'text', x: 2048, y: 756, rotation: Math.PI / 2, silent: true,
  style: {text: 'Year', fill: '#000', font: '36px "' + FONT + '"', lineHeight: 34, textAlign: 'center', textVerticalAlign: 'middle', align: 'center', verticalAlign: 'middle'}});
graphics.push({type: 'text', x: 25, y: 760, rotation: Math.PI / 2, silent: true,
  style: {text: 'SMB [m yr\u207B\u00B9]', fill: '#000', font: '41px "' + FONT + '"', lineHeight: 41, textAlign: 'center', textVerticalAlign: 'middle', align: 'center', verticalAlign: 'middle'}});
graphics.push({type: 'text', x: 1063, y: 1526, silent: true,
  style: {text: 'Surface elevation [m]', fill: '#000', font: '41px "' + FONT + '"', lineHeight: 41, textAlign: 'center', textVerticalAlign: 'middle', align: 'center', verticalAlign: 'middle'}});

const chart = echarts.init(document.getElementById('c'), null, {renderer: 'svg', width: 2067, height: 1550});
chart.setOption({
  backgroundColor: '#fff',
  animation: false,
  grid: grids, xAxis: xAxes, yAxis: yAxes, series: series, graphic: graphics
});
</script></body></html>
